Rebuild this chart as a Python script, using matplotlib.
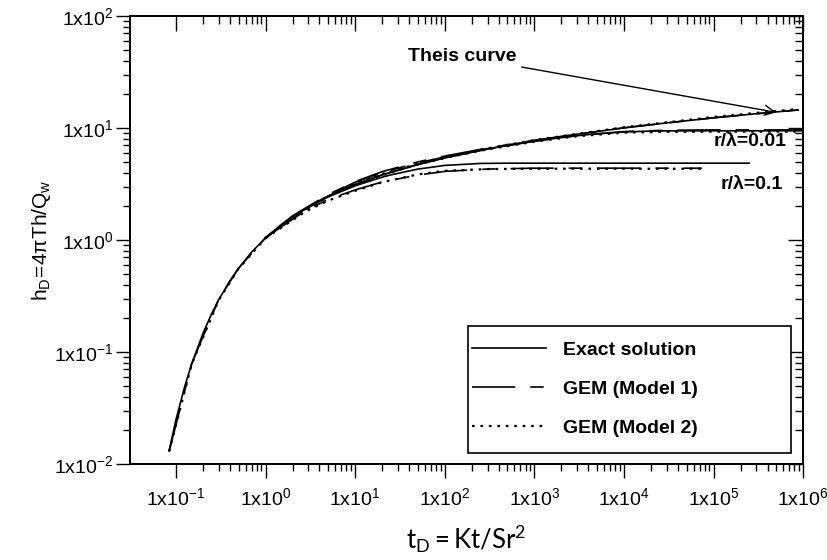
import numpy as np
import matplotlib
matplotlib.use("Agg")
from matplotlib import pyplot as plt
from matplotlib.patches import Rectangle
from matplotlib.ticker import FixedLocator, NullFormatter, FixedFormatter

# ---- data ----
# exact solutions (Theis and leaky r/lambda = 0.01, 0.1)
td_theis = [0.084, 0.1, 0.125, 0.15, 0.2, 0.25, 0.3, 0.4, 0.5, 0.7, 1, 1.5, 2, 3, 5,
            10, 20, 50, 100, 200, 500, 1e3, 3e3, 1e4, 3e4, 1e5, 3e5, 8.8e5]
hd_theis = [0.0131, 0.0249, 0.0489, 0.0783, 0.1464, 0.2194, 0.2931, 0.432, 0.5598, 0.78,
            1.0443, 1.375, 1.6234, 1.9893, 2.4679, 3.1365, 3.8173, 4.7261, 5.4168, 6.1087,
            7.0242, 7.717, 8.8155, 10.019, 11.118, 12.322, 13.42, 14.497]

td_l001 = [1, 2, 5, 10, 20, 50, 100, 300, 500, 1e3, 2e3, 3e3, 5e3, 1e4, 2e4, 3e4, 1e5, 1e6]
hd_l001 = [1.044, 1.623, 2.467, 3.135, 3.815, 4.721, 5.407, 6.483, 6.975, 7.62, 8.22, 8.537,
           8.883, 9.223, 9.394, 9.43, 9.442, 9.443]

td_l01 = [1, 2, 2.5, 5, 10, 20, 25, 50, 100, 250, 500, 1e3, 1e4, 2.5e5]
hd_l01 = [1.039, 1.61, 1.805, 2.427, 3.049, 3.639, 3.815, 4.296, 4.635, 4.829, 4.853, 4.854,
          4.854, 4.854]

# GEM (Model 1)
td_m1_theis = [0.084, 0.15, 0.3, 0.5, 1, 2, 5, 10, 20, 50, 100, 300, 1e3, 1e4, 1e5, 8.8e5]
hd_m1_theis = [0.013, 0.079, 0.295, 0.56, 1.05, 1.64, 2.55, 3.32, 4.08, 4.98, 5.62, 6.62,
               7.78, 10.05, 12.35, 14.5]
td_m1_l001 = [1, 5, 10, 20, 50, 100, 300, 1e3, 3e3, 1e4, 3e4, 1e5, 1e6]
hd_m1_l001 = [1.05, 2.52, 3.28, 4.0, 4.9, 5.5, 6.55, 7.62, 8.55, 9.3, 9.55, 9.62, 9.62]
td_m1_l01 = [1, 2, 5, 10, 20, 50, 100, 300, 1e3, 1e4, 7.4e4]
hd_m1_l01 = [1.04, 1.6, 2.3, 2.8, 3.3, 3.8, 4.1, 4.3, 4.38, 4.38, 4.38]

# GEM (Model 2)
td_m2_theis = [0.084, 0.15, 0.3, 0.5, 1, 2, 5, 10, 20, 50, 100, 300, 1e3, 1e4, 1e5, 8.8e5]
hd_m2_theis = [0.013, 0.078, 0.29, 0.555, 1.04, 1.62, 2.45, 3.18, 3.9, 4.8, 5.5, 6.58,
               7.8, 10.15, 12.55, 14.8]
td_m2_l001 = [1, 5, 10, 20, 50, 100, 300, 1e3, 3e3, 1e4, 3e4, 1e5, 1e6]
hd_m2_l001 = [1.04, 2.45, 3.1, 3.8, 4.72, 5.4, 6.45, 7.55, 8.45, 9.1, 9.25, 9.28, 9.28]
td_m2_l01 = [1, 2, 5, 10, 20, 50, 100, 300, 1e3, 1e4, 7.4e4]
hd_m2_l01 = [1.04, 1.58, 2.25, 2.75, 3.28, 3.85, 4.15, 4.3, 4.33, 4.33, 4.33]

x_major = [1e-1, 1e0, 1e1, 1e2, 1e3, 1e4, 1e5, 1e6]
x_labels = ['-1', '0', '1', '2', '3', '4', '5', '6']
y_major = [1e-2, 1e-1, 1e0, 1e1, 1e2]
y_labels = ['-2', '-1', '0', '1', '2']

plt.rcParams['font.family'] = ['Liberation Sans', 'DejaVu Sans']
plt.rcParams['mathtext.fontset'] = 'custom'
plt.rcParams['mathtext.rm'] = 'Liberation Sans'
plt.rcParams['mathtext.it'] = 'Liberation Sans:italic'

fig = plt.figure(figsize=(8.28, 5.6), dpi=100)
ax = fig.add_axes([0.157, 0.1714, 0.813, 0.80])

lw = 1.2
dash1 = (26, 9, 8, 9)
dot2 = (1.2, 2.6)

ax.plot(td_theis, hd_theis, color='black', lw=lw, label='Exact solution')
ax.plot(td_l001, hd_l001, color='black', lw=lw)
ax.plot(td_l01, hd_l01, color='black', lw=lw)

ax.plot(td_m1_theis, hd_m1_theis, color='black', lw=lw, dashes=dash1, label='GEM (Model 1)')
ax.plot(td_m1_l001, hd_m1_l001, color='black', lw=lw, dashes=dash1)
ax.plot(td_m1_l01, hd_m1_l01, color='black', lw=lw, dashes=dash1)

ax.plot(td_m2_theis, hd_m2_theis, color='black', lw=1.6, dashes=dot2, label='GEM (Model 2)')
ax.plot(td_m2_l001, hd_m2_l001, color='black', lw=1.6, dashes=dot2)
ax.plot(td_m2_l01, hd_m2_l01, color='black', lw=1.6, dashes=dot2)

xlim = (0.0307, 1e6)
ylim = (1e-2, 1e2)
x_minor = [m * 10.0 ** e for e in range(-1, 6) for m in range(2, 10)]
y_minor = [m * 10.0 ** e for e in range(-2, 2) for m in range(2, 10)]


def setup_axis(a):
    a.set_xscale('log')
    a.set_yscale('log')
    a.set_xlim(*xlim)
    a.set_ylim(*ylim)
    a.xaxis.set_major_locator(FixedLocator(x_major))
    a.xaxis.set_minor_locator(FixedLocator(x_minor))
    a.yaxis.set_major_locator(FixedLocator(y_major))
    a.yaxis.set_minor_locator(FixedLocator(y_minor))
    a.xaxis.set_minor_formatter(NullFormatter())
    a.yaxis.set_minor_formatter(NullFormatter())


setup_axis(ax)

# mirrored ticks on top / right, pointing inward
axt = ax.twiny()
setup_axis(axt)
axt.tick_params(which='both', direction='in', labeltop=False, width=1)
axt.tick_params(which='major', length=11)
axt.tick_params(which='minor', length=6)
axr = ax.twinx()
setup_axis(axr)
axr.tick_params(which='both', direction='in', labelright=False, width=1)
axr.tick_params(which='major', length=11)
axr.tick_params(which='minor', length=6)

# labels set after the twins, since shared axes share their tickers
ax.xaxis.set_major_formatter(FixedFormatter([r'$\mathregular{1x10^{%s}}$' % s for s in x_labels]))
ax.yaxis.set_major_formatter(FixedFormatter([r'$\mathregular{1x10^{%s}}$' % s for s in y_labels]))
ax.tick_params(which='both', direction='out', labelsize=14, width=1)
ax.tick_params(which='major', length=10)
ax.tick_params(which='minor', length=5)
ax.tick_params(axis='x', pad=7)
ax.tick_params(axis='y', pad=2)

for a in (ax, axt, axr):
    for s in a.spines.values():
        s.set_linewidth(1.2)

ax.set_ylabel(r'$\mathregular{h_D\!=\!4\pi Th/Q_w}$', fontsize=15, labelpad=1)
ax.set_xlabel(r'$\mathregular{t_D = Kt/Sr^2}$', fontsize=18.5, labelpad=10,
              family=['Lato', 'DejaVu Sans'])

ax.annotate('Theis curve', xy=(5.0e5, 13.8), xytext=(155, 43.6),
            fontsize=14, fontweight='bold', ha='center', va='center',
            arrowprops=dict(arrowstyle='->', color='black', lw=1,
                            shrinkA=2, shrinkB=0, mutation_scale=18))
ax.text(6.5e5, 7.6, 'r/λ=0.01', fontsize=14, fontweight='bold',
        ha='right', va='center')
ax.text(5.9e5, 3.16, 'r/λ=0.1', fontsize=14, fontweight='bold',
        ha='right', va='center')

# legend box drawn separately so its padding can differ horizontally / vertically
ax.add_patch(Rectangle((0.502, 0.0246), 0.48, 0.283, transform=ax.transAxes,
                       facecolor='white', edgecolor='black', lw=1.2, zorder=4))
leg = ax.legend(loc='center left', bbox_to_anchor=(0.508, 0.167),
                borderaxespad=0, borderpad=0, frameon=False,
                handlelength=3.8, handletextpad=0.9, labelspacing=1.1,
                prop={'size': 14, 'weight': 'bold'})
leg.set_zorder(5)
axt.set_zorder(-1)
axr.set_zorder(-1)
ax.patch.set_visible(False)

fig.savefig('out.png', dpi=100)
